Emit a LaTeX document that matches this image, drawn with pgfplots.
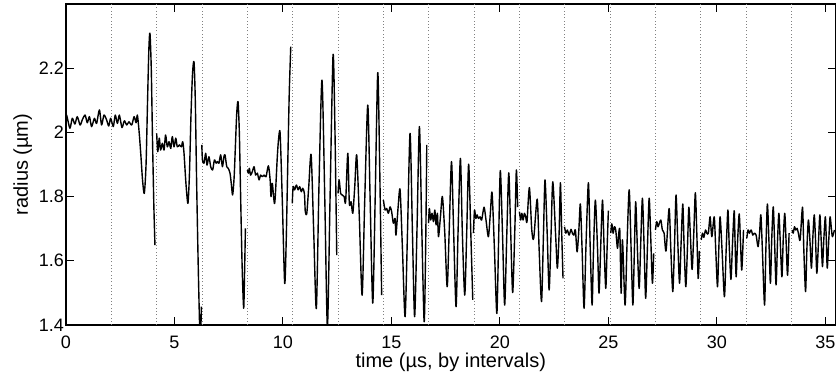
\documentclass[border=0pt]{standalone}
\usepackage{fontspec}
\setmainfont{Liberation Sans}
\usepackage{pgfplots}
\pgfplotsset{compat=1.18}
\begin{document}
\begin{tikzpicture}
\useasboundingbox (-33pt,-26.5pt) rectangle (385pt,162.5pt);
\begin{axis}[
  at={(0pt,0pt)}, anchor=south west,
  scale only axis, width=384.75pt, height=160.5pt,
  xmin=0, xmax=35.47, ymin=1.4, ymax=2.4,
  xtick={0,5,10,15,20,25,30,35},
  ytick={1.4,1.6,1.8,2.0,2.2},
  yticklabels={1.4,1.6,1.8,2,2.2},
  tick align=inside, major tick length=3.85pt,
  tick style={black, line width=0.5pt},
  axis line style={black, line width=0.6pt},
  /pgf/number format/assume math mode=true,
  every tick label/.append style={font=\fontsize{9}{10.5}\selectfont},
  xticklabel style={anchor=north, inner sep=0pt, yshift=-5.3pt},
  yticklabel style={anchor=east, inner sep=0pt, xshift=-0.8pt},
  label style={font=\fontsize{12}{14}\selectfont},
  xlabel={time (µs, by intervals)},
  ylabel={radius (µm)},
  every axis x label/.style={at={(axis description cs:0.5,-0.133)}, anchor=base},
  every axis y label/.style={at={(axis description cs:-0.0494,0.5)}, anchor=base, rotate=90},
  extra x ticks={2.09,4.18,6.27,8.36,10.45,12.54,14.63,16.72,18.81,20.9,22.99,25.08,27.17,29.26,31.35,33.44},
  extra x tick labels={},
  extra x tick style={grid=major, major tick length=0pt,
    major grid style={black!50, line width=0.4pt, dash pattern=on 0.4pt off 1.25pt}},
  cycle list={{black,solid,mark=none}},
  every axis plot post/.append style={black, solid, mark=none, line width=0.7pt, line join=round, smooth, tension=0.45},
]
\addplot coordinates {(0,2.040)(0.03,2.054)(0.18,2.013)(0.29,2.044)(0.41,2.026)(0.52,2.049)(0.65,2.023)(0.75,2.039)(0.88,2.054)(0.98,2.030)(1.08,2.049)(1.18,2.018)(1.31,2.044)(1.41,2.028)(1.54,2.070)(1.64,2.023)(1.75,2.054)(1.87,2.039)(1.97,2.020)(2.06,2.044)(2.18,2.018)(2.27,2.054)(2.37,2.028)(2.46,2.054)(2.58,2.015)(2.69,2.036)(2.80,2.023)(2.90,2.033)(3.03,2.023)(3.14,2.049)(3.23,2.030)(3.29,2.054)(3.37,2.002)(3.45,1.93)(3.53,1.85)(3.61,1.810)(3.69,1.90)(3.76,2.10)(3.82,2.26)(3.87,2.309)(3.93,2.20)(3.99,1.97)(4.05,1.77)(4.10,1.649)};
\addplot coordinates {(4.18,1.997)(4.23,1.940)(4.30,1.982)(4.36,1.945)(4.44,1.966)(4.52,1.945)(4.59,1.992)(4.67,1.955)(4.75,1.971)(4.83,1.950)(4.90,1.987)(4.98,1.955)(5.06,1.982)(5.13,1.955)(5.23,1.961)(5.32,1.955)(5.38,1.971)(5.44,1.935)(5.53,1.84)(5.62,1.779)(5.69,1.87)(5.76,2.05)(5.83,2.18)(5.90,2.22)(5.96,2.10)(6.02,1.85)(6.09,1.60)(6.15,1.42)(6.19,1.33)(6.24,1.457)};
\addplot coordinates {(6.26,1.961)(6.29,1.914)(6.36,1.904)(6.44,1.935)(6.50,1.898)(6.59,1.924)(6.67,1.893)(6.76,1.883)(6.84,1.914)(6.92,1.904)(6.98,1.909)(7.05,1.904)(7.13,1.930)(7.21,1.893)(7.28,1.924)(7.33,1.930)(7.41,1.893)(7.48,1.888)(7.56,1.873)(7.62,1.84)(7.68,1.805)(7.75,1.86)(7.81,1.96)(7.87,2.06)(7.93,2.096)(7.99,2.00)(8.05,1.80)(8.12,1.58)(8.19,1.452)(8.23,1.56)(8.27,1.701)};
\addplot coordinates {(8.36,1.883)(8.41,1.873)(8.45,1.888)(8.51,1.867)(8.59,1.878)(8.67,1.893)(8.74,1.867)(8.82,1.873)(8.90,1.852)(8.97,1.867)(9.05,1.862)(9.13,1.867)(9.22,1.862)(9.33,1.896)(9.41,1.852)(9.45,1.800)(9.51,1.841)(9.62,1.779)(9.74,1.924)(9.80,1.98)(9.87,1.997)(9.97,1.789)(10.08,1.530)(10.15,1.66)(10.22,1.893)(10.29,2.12)(10.36,2.267)};
\addplot coordinates {(10.43,1.779)(10.47,1.831)(10.54,1.821)(10.62,1.836)(10.70,1.821)(10.77,1.831)(10.85,1.815)(10.91,1.826)(10.99,1.810)(11.03,1.753)(11.10,1.748)(11.19,1.831)(11.30,1.930)(11.42,1.686)(11.54,1.452)(11.66,1.831)(11.80,2.163)(11.93,1.789)(12.05,1.395)(12.17,1.789)(12.31,2.241)(12.40,1.997)(12.48,1.618)};
\addplot coordinates {(12.54,1.810)(12.59,1.852)(12.66,1.810)(12.74,1.805)(12.82,1.800)(12.89,1.784)(12.99,1.935)(13.06,1.779)(13.14,1.784)(13.22,1.748)(13.31,1.831)(13.40,1.930)(13.52,1.737)(13.65,1.493)(13.77,1.789)(13.91,2.085)(14.02,1.789)(14.14,1.468)(14.25,1.789)(14.37,2.186)(14.46,1.893)(14.55,1.493)};
\addplot coordinates {(14.63,1.789)(14.71,1.758)(14.78,1.763)(14.86,1.748)(14.94,1.768)(15.01,1.753)(15.09,1.717)(15.17,1.732)(15.21,1.680)(15.31,1.768)(15.40,1.821)(15.51,1.634)(15.63,1.426)(15.74,1.686)(15.86,1.997)(15.97,1.686)(16.07,1.426)(16.18,1.700)(16.29,2.018)(16.40,1.700)(16.51,1.410)(16.58,1.65)(16.63,1.961)};
\addplot coordinates {(16.71,1.717)(16.75,1.763)(16.81,1.727)(16.87,1.748)(16.94,1.722)(17.00,1.758)(17.06,1.712)(17.12,1.748)(17.17,1.675)(17.26,1.737)(17.35,1.800)(17.46,1.686)(17.57,1.519)(17.66,1.686)(17.77,1.909)(17.87,1.686)(17.98,1.457)(18.07,1.686)(18.18,1.919)(18.27,1.686)(18.38,1.493)(18.47,1.686)(18.56,1.901)(18.66,1.686)(18.75,1.478)};
\addplot coordinates {(18.78,1.686)(18.83,1.758)(18.89,1.732)(18.95,1.743)(19.01,1.732)(19.09,1.737)(19.16,1.727)(19.27,1.767)(19.36,1.727)(19.47,1.675)(19.56,1.748)(19.64,1.812)(19.75,1.634)(19.86,1.436)(19.94,1.66)(20.02,1.881)(20.12,1.686)(20.22,1.462)(20.32,1.686)(20.41,1.874)(20.50,1.686)(20.59,1.501)(20.69,1.700)(20.76,1.883)(20.82,1.767)};
\addplot coordinates {(20.90,1.753)(20.96,1.727)(21.01,1.748)(21.07,1.727)(21.13,1.748)(21.19,1.737)(21.25,1.722)(21.36,1.828)(21.47,1.696)(21.56,1.670)(21.72,1.792)(21.81,1.634)(21.92,1.473)(22.01,1.686)(22.08,1.852)(22.18,1.686)(22.27,1.509)(22.36,1.686)(22.44,1.846)(22.58,1.665)(22.65,1.577)(22.73,1.686)(22.79,1.843)(22.85,1.686)(22.91,1.545)};
\addplot coordinates {(22.98,1.706)(23.04,1.686)(23.11,1.696)(23.19,1.680)(23.28,1.698)(23.34,1.686)(23.41,1.680)(23.48,1.696)(23.56,1.628)(23.64,1.696)(23.71,1.777)(23.79,1.634)(23.88,1.452)(23.97,1.650)(24.08,1.843)(24.16,1.650)(24.25,1.462)(24.31,1.62)(24.40,1.789)(24.50,1.640)(24.57,1.499)(24.65,1.650)(24.73,1.789)(24.80,1.650)(24.88,1.514)(24.94,1.634)(25.00,1.756)};
\addplot coordinates {(25.11,1.686)(25.16,1.715)(25.22,1.686)(25.28,1.706)(25.34,1.696)(25.42,1.639)(25.48,1.686)(25.53,1.691)(25.59,1.499)(25.65,1.665)(25.77,1.462)(25.86,1.650)(25.96,1.821)(26.05,1.634)(26.13,1.462)(26.20,1.634)(26.26,1.784)(26.34,1.634)(26.42,1.514)(26.49,1.650)(26.57,1.795)(26.65,1.640)(26.72,1.483)(26.80,1.640)(26.88,1.795)(26.95,1.680)(27.03,1.530)(27.09,1.623)};
\addplot coordinates {(27.17,1.696)(27.23,1.722)(27.29,1.706)(27.35,1.717)(27.42,1.727)(27.49,1.696)(27.57,1.686)(27.66,1.631)(27.80,1.763)(27.88,1.634)(27.97,1.504)(28.05,1.650)(28.12,1.805)(28.20,1.660)(28.28,1.530)(28.35,1.650)(28.43,1.777)(28.49,1.650)(28.57,1.519)(28.65,1.650)(28.71,1.767)(28.78,1.680)(28.86,1.573)(28.94,1.690)(29.01,1.812)(29.08,1.680)(29.14,1.545)(29.20,1.631)};
\addplot coordinates {(29.28,1.665)(29.34,1.686)(29.40,1.673)(29.48,1.696)(29.54,1.686)(29.61,1.686)(29.69,1.737)(29.77,1.675)(29.88,1.737)(29.95,1.634)(30.03,1.519)(30.09,1.634)(30.15,1.737)(30.24,1.634)(30.35,1.488)(30.43,1.634)(30.51,1.758)(30.57,1.650)(30.65,1.542)(30.72,1.650)(30.80,1.756)(30.84,1.660)(30.89,1.550)(30.95,1.650)(31.03,1.746)(31.09,1.660)(31.15,1.571)(31.23,1.696)};
\addplot coordinates {(31.38,1.670)(31.44,1.696)(31.50,1.686)(31.58,1.696)(31.66,1.680)(31.73,1.686)(31.81,1.680)(31.90,1.644)(31.97,1.686)(32.03,1.743)(32.10,1.634)(32.20,1.462)(32.26,1.634)(32.33,1.777)(32.40,1.665)(32.47,1.530)(32.53,1.665)(32.60,1.768)(32.66,1.665)(32.73,1.525)(32.80,1.665)(32.86,1.748)(32.92,1.665)(33.00,1.550)(33.06,1.665)(33.13,1.748)(33.19,1.665)(33.26,1.555)(33.33,1.686)};
\addplot coordinates {(33.47,1.696)(33.52,1.686)(33.58,1.706)(33.64,1.696)(33.70,1.701)(33.76,1.686)(33.84,1.665)(33.95,1.767)(34.01,1.634)(34.09,1.504)(34.15,1.634)(34.22,1.727)(34.29,1.665)(34.36,1.577)(34.42,1.665)(34.49,1.743)(34.55,1.665)(34.61,1.561)(34.69,1.665)(34.75,1.743)(34.81,1.665)(34.87,1.582)(34.93,1.665)(35.00,1.737)(35.04,1.680)(35.09,1.577)(35.16,1.665)(35.22,1.737)(35.28,1.700)(35.33,1.675)(35.42,1.696)};
\end{axis}
\end{tikzpicture}
\end{document}
